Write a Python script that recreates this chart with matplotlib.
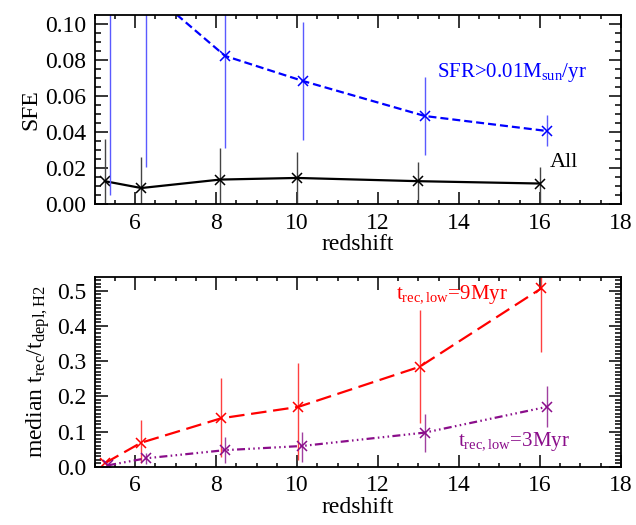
import matplotlib
matplotlib.use('Agg')
import matplotlib.pyplot as plt
import numpy as np

plt.rcParams['font.family'] = 'serif'
plt.rcParams['font.serif'] = ['Liberation Serif', 'DejaVu Serif']
plt.rcParams['mathtext.fontset'] = 'custom'
plt.rcParams['mathtext.rm'] = 'Liberation Serif'
plt.rcParams['mathtext.it'] = 'Liberation Serif:italic'

# top panel: SFE vs redshift
z_all = [5.25, 6.15, 8.1, 10.0, 13.0, 16.0]
sfe_all = [0.0128, 0.0090, 0.0137, 0.0146, 0.0128, 0.0115]
sfe_all_lo = [-0.01, -0.01, -0.005, -0.005, -0.005, -0.005]
sfe_all_hi = [0.0365, 0.0263, 0.031, 0.029, 0.0235, 0.0207]

z_sfr = [5.37, 6.26, 8.22, 10.14, 13.16, 16.17]
sfe_sfr = [0.14, 0.12, 0.0824, 0.0685, 0.049, 0.0407]
sfe_sfr_lo = [0.005, 0.0207, 0.031, 0.0356, 0.0276, 0.0324]
sfe_sfr_hi = [0.30, 0.25, 0.134, 0.101, 0.0707, 0.0494]

# bottom panel: median t_rec / t_depl,H2
z_9 = [5.25, 6.14, 8.12, 10.03, 13.03, 16.04]
ratio_9 = [0.01, 0.068, 0.1375, 0.17, 0.284, 0.507]
ratio_9_lo = [0.01, 0.01, 0.028, 0.019, 0.123, 0.327]
ratio_9_hi = [0.01, 0.133, 0.251, 0.295, 0.445, 0.70]

z_3 = [5.33, 6.27, 8.21, 10.13, 13.16, 16.17]
ratio_3 = [0.004, 0.024, 0.047, 0.059, 0.097, 0.17]
ratio_3_lo = [0.004, 0.008, 0.011, 0.014, 0.043, 0.114]
ratio_3_hi = [0.004, 0.040, 0.085, 0.099, 0.15, 0.229]

purple = '#8a0d8a'
fs = 17

fig = plt.figure(figsize=(6.36, 5.25), dpi=100)
ax1 = fig.add_axes([0.149, 0.611, 0.827, 0.360])
ax2 = fig.add_axes([0.149, 0.111, 0.827, 0.362])


def series(ax, x, y, lo, hi, color, dashes, ecolor):
    y = np.array(y)
    yerr = [y - np.array(lo), np.array(hi) - y]
    ax.errorbar(x, y, yerr=yerr, fmt='none', ecolor=ecolor, elinewidth=1.0, capsize=0)
    line, = ax.plot(x, y, color=color, lw=1.6, marker='x', ms=7, mew=1.1)
    if dashes is not None:
        line.set_dashes(dashes)


series(ax1, z_all, sfe_all, sfe_all_lo, sfe_all_hi, 'k', None, '#444444')
series(ax1, z_sfr, sfe_sfr, sfe_sfr_lo, sfe_sfr_hi, '#0000ff', (3.6, 1.8), '#5a5aff')
series(ax2, z_9, ratio_9, ratio_9_lo, ratio_9_hi, '#ff0000', (7.0, 3.0), '#ff4040')
series(ax2, z_3, ratio_3, ratio_3_lo, ratio_3_hi, purple,
       (3.6, 1.5, 0.7, 1.5, 0.7, 1.5, 0.7, 1.5), '#a040a0')

ax1.set_xlim(5, 18)
ax1.set_ylim(0, 0.105)
ax1.set_yticks(np.arange(0, 0.101, 0.02))
ax1.set_yticks(np.arange(0, 0.105, 0.005), minor=True)
ax1.set_yticklabels(['%.2f' % v for v in np.arange(0, 0.101, 0.02)])
ax1.set_ylabel('SFE', fontsize=fs, labelpad=3)

ax2.set_xlim(5, 18)
ax2.set_ylim(0, 0.54)
ax2.set_yticks(np.arange(0, 0.51, 0.1))
ax2.set_yticks(np.arange(0, 0.54, 0.01), minor=True)
ax2.set_yticklabels(['%.1f' % v for v in np.arange(0, 0.51, 0.1)])
ax2.set_ylabel(r'median t$_{\mathrm{rec}}$/t$_{\mathrm{depl,H2}}$', fontsize=fs, labelpad=4)

for ax in (ax1, ax2):
    ax.set_xticks([6, 8, 10, 12, 14, 16, 18])
    ax.set_xticks(np.arange(5, 18.01, 0.5), minor=True)
    ax.set_xticklabels(['6', '8', '10', '12', '14', '16', '18'])
    ax.set_xlabel('redshift', fontsize=fs, labelpad=0.5)
    ax.tick_params(which='both', direction='in', top=True, right=True, labelsize=fs, width=1.1)
    ax.tick_params(which='major', length=9, pad=6)
    ax.tick_params(which='minor', length=4.5)
    ax.tick_params(axis='x', which='minor', length=3)
    for s in ax.spines.values():
        s.set_linewidth(1.3)

ax1.text(13.46, 0.073, r'SFR>0.01M$_{\mathrm{sun}}$/yr', color='#0000ff', fontsize=15, va='center')
ax1.text(16.24, 0.023, 'All', color='k', fontsize=16, va='center')
ax2.text(12.44, 0.488, r't$_{\mathrm{rec,low}}$=9Myr', color='#ff0000', fontsize=15, va='center')
ax2.text(13.97, 0.071, r't$_{\mathrm{rec,low}}$=3Myr', color=purple, fontsize=15, va='center')

fig.savefig('out.png', dpi=100)
